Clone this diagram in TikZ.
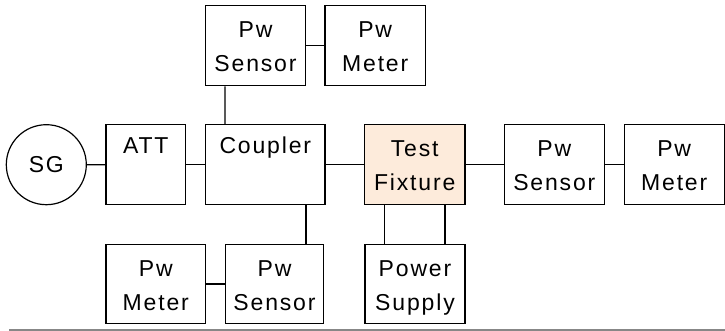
\documentclass[tikz,border=0pt]{standalone}
\usepackage{fontspec}
\setmainfont{Liberation Sans}[LetterSpace=8]
\usetikzlibrary{calc}
\definecolor{fixfill}{HTML}{FDEBDB}
\definecolor{rulegray}{HTML}{878787}
\begin{document}
\begin{tikzpicture}[x=1pt,y=-1pt,
  every node/.style={font=\fontsize{23}{34}\selectfont},
  box/.style={draw, line width=1.3pt, minimum width=100pt, minimum height=80pt,
    inner sep=0pt, align=center, text height=54pt, text depth=2pt},
  onebox/.style={box, text height=17pt, text depth=39pt},
  wire/.style={line width=1.3pt}]
\useasboundingbox (0,0) rectangle (725,331);
% nodes
\node[draw, circle, line width=1.2pt, minimum size=80pt, inner sep=0pt] (sg) at (46.3,164.7) {SG};
\node[onebox, minimum width=79.7pt] (att) at (145.8,164.8) {ATT};
\node[onebox, minimum width=119.3pt] (cpl) at (265.3,164.8) {Coupler};
\node[box, minimum width=99.6pt] (tsen) at (255.5,45.8) {Pw\\Sensor};
\node[box, minimum width=100.3pt] (tmet) at (375.2,45.8) {Pw\\Meter};
\node[box, fill=fixfill, minimum width=100.7pt] (fix) at (414.7,164.8) {Test\\Fixture};
\node[box] (rsen) at (554.3,164.8) {Pw\\Sensor};
\node[box] (rmet) at (674.2,164.8) {Pw\\Meter};
\node[box, minimum height=78.6pt] (pwr) at (415,284) {Power\\Supply};
\node[box, minimum width=99.7pt, minimum height=78.6pt] (bmet) at (155.8,284) {Pw\\Meter};
\node[box, minimum width=97.6pt, minimum height=78.6pt] (bsen) at (274.5,284) {Pw\\Sensor};
% connectors
\draw[wire] (sg) -- (att);
\draw[wire] (att) -- (cpl);
\draw[wire] (cpl) -- (fix);
\draw[wire] (fix) -- (rsen);
\draw[wire] (rsen) -- (rmet);
\draw[wire] (tsen) -- (tmet);
\draw[wire] (bmet) -- (bsen);
\draw[wire] ([xshift=20pt]tsen.south west) -- ([xshift=20pt]cpl.north west);
\draw[wire] ([xshift=-19.7pt]cpl.south east) -- ([xshift=-19.7pt]cpl.south east |- bsen.north);
\draw[wire] ([xshift=21pt]fix.south west) -- ([xshift=21pt]fix.south west |- pwr.north);
\draw[wire] ([xshift=-20.7pt]fix.south east) -- ([xshift=-20.7pt]fix.south east |- pwr.north);
% bottom rule
\coordinate (rl) at (9,329.8);
\coordinate (rr) at (725,329.8);
\draw[rulegray, line width=2pt] (rl) -- (rr);
\end{tikzpicture}
\end{document}
